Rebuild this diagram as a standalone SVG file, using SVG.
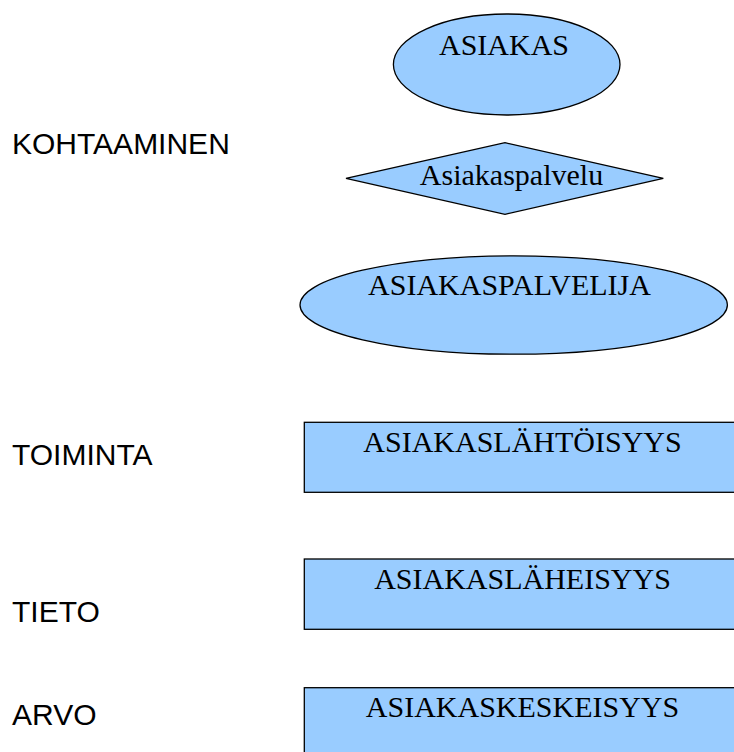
<svg xmlns="http://www.w3.org/2000/svg" width="734" height="752" viewBox="0 0 734 752">
<style>
.shape{fill:#99ccff;stroke:#000;stroke-width:1.3}
.nt{font-family:"Liberation Serif","Times New Roman",serif;font-size:30px;fill:#000;text-anchor:middle}
.lb{font-family:"Liberation Sans",Arial,sans-serif;font-size:30px;fill:#000}
</style>
<rect width="734" height="752" fill="#fff"/>
<g id="labels">
<text class="lb" x="12" y="154">KOHTAAMINEN</text>
<text class="lb" x="12" y="465">TOIMINTA</text>
<text class="lb" x="12" y="621.5">TIETO</text>
<text class="lb" x="12" y="725">ARVO</text>
</g>
<g id="asiakas">
<ellipse class="shape" cx="506.7" cy="64.5" rx="113.3" ry="50.5"/>
<text class="nt" x="504" y="54.5">ASIAKAS</text>
</g>
<g id="asiakaspalvelu">
<polygon class="shape" points="346,178.3 505,142.7 663.3,178.3 505,214.3"/>
<text class="nt" x="511.5" y="185">Asiakaspalvelu</text>
</g>
<g id="asiakaspalvelija">
<ellipse class="shape" cx="513.7" cy="305" rx="213.7" ry="49.2"/>
<text class="nt" x="509.5" y="295">ASIAKASPALVELIJA</text>
</g>
<g id="asiakaslahtoisyys">
<rect class="shape" x="304.3" y="422.3" width="440" height="70"/>
<text class="nt" x="522.5" y="451.7">ASIAKASLÄHTÖISYYS</text>
</g>
<g id="asiakaslaheisyys">
<rect class="shape" x="304.3" y="559" width="440" height="70.3"/>
<text class="nt" x="522.5" y="589">ASIAKASLÄHEISYYS</text>
</g>
<g id="asiakaskeskeisyys">
<rect class="shape" x="304.3" y="687.7" width="440" height="80"/>
<text class="nt" x="522.5" y="717.3">ASIAKASKESKEISYYS</text>
</g>
<g id="connectors"></g>
</svg>
